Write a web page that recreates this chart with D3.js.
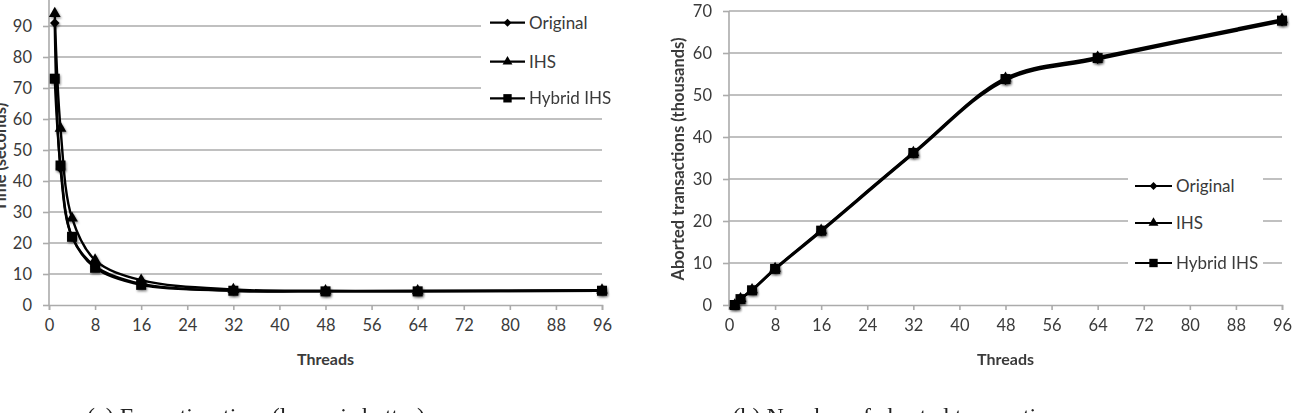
<!DOCTYPE html>
<html>
<head>
<meta charset="utf-8">
<script src="https://cdn.jsdelivr.net/npm/d3@7/dist/d3.min.js"></script>
<style>
  html, body { margin: 0; padding: 0; background: #fff; overflow: hidden; }
  svg { display: block; }
  .tick text { font-family: Lato, "Open Sans", sans-serif; font-size: 16.5px; fill: #3a3a3a; }
</style>
</head>
<body>
<svg id="chart" width="1296" height="413"></svg>
<script>
// thread counts on the x axis
const threads = [1, 2, 4, 8, 16, 32, 48, 64, 96];
const xTicks = [0, 8, 16, 24, 32, 40, 48, 56, 64, 72, 80, 88, 96];
const seriesNames = ["Original", "IHS", "Hybrid IHS"];

// (a) execution time, seconds
const timeOriginal = [91, 44, 22, 12.5, 6.8, 4.6, 4.4, 4.4, 4.6];
const timeIHS      = [94, 57, 28, 14.5, 8, 5, 4.6, 4.6, 4.8];
const timeHybrid   = [73, 45, 22, 12, 6.5, 4.6, 4.4, 4.4, 4.6];
const timeTicks = [0, 10, 20, 30, 40, 50, 60, 70, 80, 90];

// (b) aborted transactions, thousands
const abortOriginal = [0, 1.5, 3.5, 8.5, 17.5, 36, 53.5, 58.5, 67.5];
const abortIHS      = [0, 1.5, 3.6, 8.7, 17.8, 36.3, 54, 59, 68];
const abortHybrid   = [0, 1.4, 3.5, 8.6, 17.7, 36.2, 53.8, 58.8, 67.7];
const abortTicks = [0, 10, 20, 30, 40, 50, 60, 70];

const captions = ["(a) Execution time (lower is better)", "(b) Number of aborted transactions"];

const svg = d3.select("#chart");
const grid = "#ababab";
const font = "Lato, 'Open Sans', sans-serif";

const defs = svg.append("defs");
defs.append("filter").attr("id", "shadow")
  .attr("x", "-50%").attr("y", "-50%").attr("width", "200%").attr("height", "200%")
  .append("feDropShadow")
  .attr("dx", 1).attr("dy", 1.5).attr("stdDeviation", 1.2)
  .attr("flood-color", "#000").attr("flood-opacity", 0.45);

const symbols = [
  { type: d3.symbolSquare, size: 45, rotate: 45 },  // diamond
  { type: d3.symbolTriangle, size: 60, rotate: 0 },
  { type: d3.symbolSquare, size: 100, rotate: 0 }
];

function drawPanel(cfg) {
  const x = d3.scaleLinear().domain([0, 96]).range([cfg.left, cfg.right]);
  const y = d3.scaleLinear().domain([0, cfg.yMax]).range([305, cfg.yTop]);
  const g = svg.append("g");

  // horizontal gridlines
  g.append("g").selectAll("line")
    .data(cfg.yTicks.filter(d => d > 0))
    .join("line")
    .attr("x1", cfg.left).attr("x2", cfg.right)
    .attr("y1", d => y(d)).attr("y2", d => y(d))
    .attr("stroke", grid).attr("stroke-width", 1.6);

  const yAxis = g.append("g")
    .attr("transform", `translate(${cfg.left},0)`)
    .call(d3.axisLeft(y).tickValues(cfg.yTicks).tickSize(6).tickPadding(cfg.yPad));

  const xAxis = g.append("g")
    .attr("transform", "translate(0,305)")
    .call(d3.axisBottom(x).tickValues(xTicks).tickSize(5).tickPadding(9));
  [yAxis, xAxis].forEach(a => {
    a.selectAll(".domain, line").attr("stroke", grid).attr("stroke-width", 1.6);
  });
  yAxis.select(".domain").attr("d", `M0,${y(cfg.yMax) - (cfg.yTop < 0 ? 10 : 0)}V305`);

  // axis titles
  g.append("text")
    .attr("x", (cfg.left + cfg.right) / 2).attr("y", 365)
    .attr("text-anchor", "middle")
    .attr("font-family", font).attr("font-size", 16).attr("font-weight", "bold")
    .attr("fill", "#3a3a3a")
    .text("Threads");
  g.append("text")
    .attr("transform", `translate(${cfg.titleX},${cfg.titleY}) rotate(-90)`)
    .attr("text-anchor", "middle")
    .attr("font-family", font).attr("font-size", 16.5).attr("font-weight", "bold")
    .attr("fill", "#3a3a3a")
    .text(cfg.yTitle);

  const line = d3.line()
    .x((d, i) => x(threads[i]))
    .y(d => y(d))
    .curve(d3.curveCatmullRom.alpha(0.5));

  cfg.series.forEach((vals, s) => {
    g.append("path")
      .attr("d", line(vals))
      .attr("fill", "none").attr("stroke", "#000").attr("stroke-width", 2.4);
  });
  cfg.series.forEach((vals, s) => {
    const sym = symbols[s];
    g.append("g").attr("filter", "url(#shadow)")
      .selectAll("path")
      .data(vals)
      .join("path")
      .attr("transform", (d, i) => `translate(${x(threads[i])},${y(d)}) rotate(${sym.rotate})`)
      .attr("d", d3.symbol(sym.type, sym.size))
      .attr("fill", "#000");
  });

  // legend
  const lg = g.append("g");
  lg.append("rect")
    .attr("x", cfg.legend.x).attr("y", cfg.legend.y)
    .attr("width", cfg.legend.w).attr("height", cfg.legend.h)
    .attr("fill", "#fff");
  seriesNames.forEach((name, s) => {
    const ly = cfg.legend.rows[s];
    const lx = cfg.legend.lineX;
    lg.append("line")
      .attr("x1", lx).attr("x2", lx + cfg.legend.lineW)
      .attr("y1", ly).attr("y2", ly)
      .attr("stroke", "#000").attr("stroke-width", 2.2);
    const sym = symbols[s];
    lg.append("path")
      .attr("transform", `translate(${lx + cfg.legend.lineW / 2},${ly}) rotate(${sym.rotate})`)
      .attr("d", d3.symbol(sym.type, sym.size * 0.7))
      .attr("fill", "#000");
    lg.append("text")
      .attr("x", lx + cfg.legend.lineW + 4).attr("y", ly + 6)
      .attr("font-family", font).attr("font-size", 17)
      .attr("fill", "#3a3a3a")
      .text(name);
  });

  svg.append("text")
    .attr("x", cfg.capX).attr("y", 424)
    .attr("text-anchor", "middle")
    .attr("font-family", "'Liberation Serif', 'DejaVu Serif', serif")
    .attr("font-size", 24)
    .attr("fill", "#222")
    .text(cfg.caption);
}

drawPanel({
  left: 49, right: 602, yMax: 100, yTop: -5, yTicks: timeTicks, yPad: 11,
  yTitle: "Time (seconds)", titleX: 6, titleY: 157,
  series: [timeOriginal, timeIHS, timeHybrid],
  legend: { x: 481, y: 4, w: 140, h: 110, lineX: 490, lineW: 35, rows: [22.7, 61.7, 98.3] },
  caption: captions[0], capX: 256
});

drawPanel({
  left: 729, right: 1282, yMax: 70, yTop: 11, yTicks: abortTicks, yPad: 11,
  yTitle: "Aborted transactions (thousands)", titleX: 684, titleY: 159,
  series: [abortOriginal, abortIHS, abortHybrid],
  legend: { x: 1128, y: 170, w: 135, h: 108, lineX: 1135, lineW: 37, rows: [186, 223, 263] },
  caption: captions[1], capX: 901
});
</script>
</body>
</html>
